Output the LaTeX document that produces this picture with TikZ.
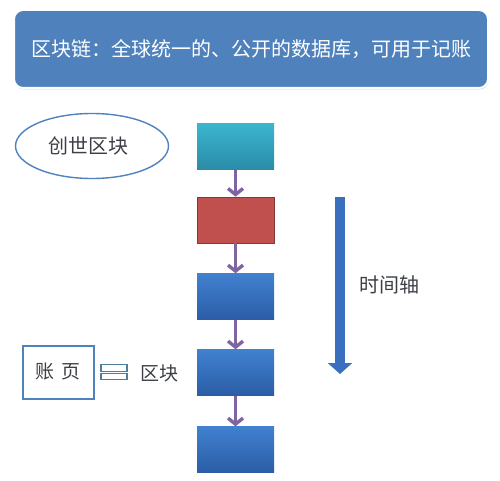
\documentclass[tikz,border=0pt]{standalone}
\usepackage{fontspec}
\setmainfont{Noto Sans CJK SC}
\usetikzlibrary{arrows.meta,shapes.geometric,shadows}
\definecolor{hdr}{HTML}{4F81BD}
\definecolor{cyanT}{HTML}{3CB6CF}
\definecolor{cyanB}{HTML}{2A8BA8}
\definecolor{redB}{HTML}{C0504D}
\definecolor{blueT}{HTML}{4181D0}
\definecolor{blueB}{HTML}{2B5DA6}
\definecolor{purp}{HTML}{8064A2}
\definecolor{txt}{HTML}{3C3F45}
\definecolor{eqc}{HTML}{4F7E9E}
\definecolor{tax}{HTML}{3A6FC0}
\tikzset{
  blk/.style={minimum width=77pt,minimum height=46pt,inner sep=0pt,draw=none},
  parr/.style={purp,line width=3.6pt,-{Straight Barb[length=6pt,width=15pt,line width=3.4pt]}},
  lbl/.style={text=txt,font=\fontsize{19pt}{22pt}\selectfont,inner sep=0pt},
  eqbar/.style={draw=eqc,line width=1.3pt,fill=white,minimum width=26pt,minimum height=6.5pt,inner sep=0pt}
}
\begin{document}
\begin{tikzpicture}[x=1pt,y=-1pt]
\useasboundingbox (0,0) rectangle (500,481);
% header
\node[draw=white,line width=2pt,fill=hdr,rounded corners=9pt,minimum width=474pt,minimum height=78pt,
      drop shadow={shadow xshift=0.5pt,shadow yshift=-1.5pt,fill=black!35,opacity=0.5},
      text=white,font=\fontsize{20pt}{24pt}\selectfont] (hd) at (251,49) {区块链：全球统一的、公开的数据库，可用于记账};
% genesis ellipse
\node[ellipse,draw=hdr,line width=1.4pt,minimum width=153pt,minimum height=65pt,inner sep=0pt] (gen) at (92,146) {};
\node[lbl,font=\fontsize{20pt}{24pt}\selectfont] (gent) at (88,146) {创世区块};
% blocks
\node[blk,top color=cyanT,bottom color=cyanB] (b1) at (235.5,146.5) {};
\node[blk,fill=redB,draw=redB!70!black,line width=0.6pt] (b2) at (235.5,220) {};
\node[blk,top color=blueT,bottom color=blueB] (b3) at (235.5,296.5) {};
\node[blk,top color=blueT,bottom color=blueB] (b4) at (235.5,372.5) {};
\node[blk,top color=blueT,bottom color=blueB] (b5) at (235.5,449.5) {};
\draw[parr] (b1.south) -- (b2.north);
\draw[parr] (b2.south) -- (b3.north);
\draw[parr] (b3.south) -- (b4.north);
\draw[parr] (b4.south) -- (b5.north);
% time axis
\coordinate (ts) at (340,197);
\coordinate (te) at (340,374);
\draw[tax,line width=10pt,-{Triangle[length=11pt,width=24pt]}] (ts) -- (te);
\node[lbl,font=\fontsize{20pt}{24pt}\selectfont,anchor=west] (ta) at (359,285) {时间轴};
% ledger = block
\node[draw=hdr,line width=1.4pt,minimum width=71pt,minimum height=53pt,inner sep=0pt] (lb) at (58.5,372.5) {};
\node[lbl] (lbt) at (58,372) {账\,\,页};
\node[eqbar] (eq1) at (114,368) {};
\node[eqbar] (eq2) at (114,376.5) {};
\node[lbl,anchor=west] (qk) at (140,373) {区块};
\end{tikzpicture}
\end{document}
